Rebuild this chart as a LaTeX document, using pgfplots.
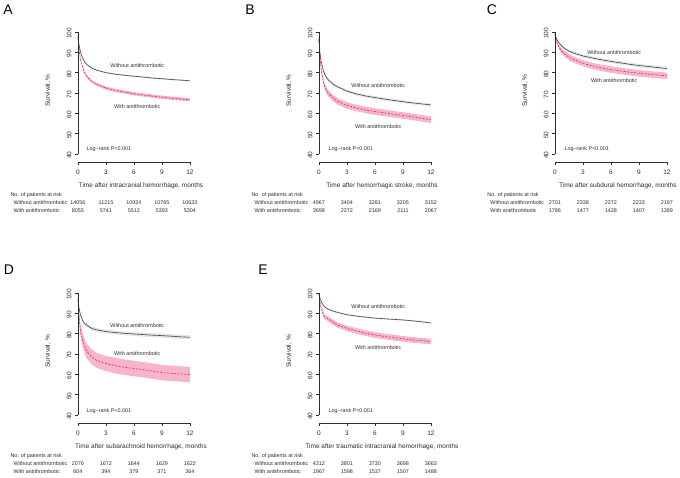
\documentclass[border=0pt]{standalone}
\usepackage{pgfplots}
\pgfplotsset{compat=1.18}
\usepackage{pgfplotstable}
\usepgfplotslibrary{fillbetween}
\usepackage{fontspec}
\setmainfont{Liberation Sans}
\definecolor{txt}{RGB}{45,45,45}
\definecolor{pband}{RGB}{248,180,202}
\definecolor{redl}{RGB}{222,45,90}
\definecolor{gband}{RGB}{228,228,228}
\definecolor{gline}{RGB}{70,70,70}
\newcommand{\fs}{\fontsize{5.4}{6}\selectfont}
\newcommand{\fm}{\fontsize{6.5}{7.5}\selectfont}

% t: months; wo: without antithrombotic; w: with antithrombotic; d*: CI half-width
\pgfplotstableread{
t    wo    dwo  w     dw
0    98.0  0.1  97.0  0.2
0.1  94.0  0.2  92.0  0.4
0.25 90.5  0.3  87.0  0.5
0.5  87.0  0.3  82.5  0.6
0.75 85.0  0.3  79.5  0.6
1    83.8  0.4  77.8  0.7
1.5  82.2  0.4  75.6  0.7
2    81.2  0.4  74.2  0.7
3    80.0  0.4  72.4  0.8
4    79.2  0.4  71.2  0.8
5    78.7  0.4  70.4  0.8
6    78.2  0.4  69.6  0.8
7    77.8  0.4  69.0  0.8
8    77.3  0.4  68.4  0.8
9    77.0  0.4  67.9  0.8
10   76.6  0.4  67.4  0.8
11   76.3  0.4  67.0  0.8
12   76.0  0.4  66.6  0.8
}\tA
\pgfplotstableread{
t    wo    dwo  w     dw
0    97.0  0.2  96.0  0.3
0.1  90.0  0.4  88.0  0.8
0.25 85.0  0.5  81.0  1.2
0.5  80.5  0.6  74.8  1.4
0.75 78.0  0.6  71.6  1.5
1    76.4  0.7  69.8  1.5
1.5  74.4  0.7  67.5  1.5
2    73.0  0.7  65.8  1.6
3    70.9  0.7  63.8  1.6
4    69.5  0.7  62.6  1.6
5    68.5  0.7  61.6  1.6
6    67.7  0.7  60.8  1.6
7    67.0  0.7  60.2  1.6
8    66.3  0.7  59.5  1.6
9    65.7  0.7  58.9  1.6
10   65.1  0.7  58.2  1.6
11   64.6  0.7  57.5  1.6
12   64.1  0.7  56.8  1.6
}\tB
\pgfplotstableread{
t    wo    dwo  w     dw
0    99.0  0.2  98.5  0.3
0.1  97.5  0.4  96.5  0.6
0.25 96.0  0.5  94.5  0.9
0.5  94.3  0.6  92.0  1.2
0.75 93.0  0.6  90.5  1.3
1    92.0  0.7  89.3  1.4
1.5  90.6  0.7  87.6  1.5
2    89.6  0.7  86.4  1.5
3    88.2  0.7  84.6  1.5
4    87.2  0.8  83.3  1.5
5    86.3  0.8  82.3  1.6
6    85.5  0.8  81.5  1.6
7    84.8  0.8  80.8  1.6
8    84.1  0.8  80.2  1.6
9    83.5  0.8  79.7  1.6
10   83.0  0.8  79.2  1.6
11   82.5  0.8  78.8  1.6
12   82.0  0.8  78.4  1.6
}\tC
\pgfplotstableread{
t    wo    dwo  w     dw
0    97.0  0.3  96.0  0.8
0.1  93.0  0.5  89.0  1.8
0.25 89.5  0.7  82.0  2.8
0.5  86.3  0.8  76.6  3.3
0.75 84.8  0.8  73.2  3.5
1    83.9  0.9  70.9  3.6
1.5  82.5  0.9  68.5  3.7
2    81.8  0.9  66.8  3.7
3    81.0  0.9  65.2  3.7
4    80.5  0.9  64.2  3.8
5    80.1  0.9  63.4  3.8
6    79.8  0.9  62.8  3.8
7    79.5  1.0  62.2  3.8
8    79.2  1.0  61.5  3.8
9    79.0  1.0  60.8  3.8
10   78.7  1.0  60.4  3.8
11   78.4  1.0  60.1  3.8
12   78.2  1.0  59.8  3.8
}\tD
\pgfplotstableread{
t    wo    dwo  w     dw
0    99.5  0.1  99.0  0.2
0.1  97.5  0.2  95.5  0.6
0.25 95.6  0.3  92.3  0.9
0.5  93.7  0.3  88.8  1.1
0.75 92.7  0.4  87.8  1.2
1    92.0  0.4  87.2  1.2
1.5  91.1  0.4  85.6  1.3
2    90.4  0.4  84.2  1.3
3    89.3  0.4  82.6  1.3
4    88.6  0.4  81.3  1.4
5    88.1  0.4  80.2  1.4
6    87.6  0.4  79.3  1.4
7    87.3  0.4  78.6  1.4
8    87.0  0.4  78.0  1.4
9    86.7  0.4  77.4  1.4
10   86.3  0.4  76.9  1.4
11   85.8  0.4  76.5  1.4
12   85.2  0.4  76.1  1.4
}\tE

\pgfplotsset{km/.style={
  scale only axis, width=112pt, height=130pt,
  xmin=0, xmax=12, ymin=36, ymax=100,
  xtick={0,3,6,9,12}, ytick={40,50,...,100},
  axis line style={draw=none},
  xtick pos=bottom, ytick pos=left, tick align=outside,
  major tick length=3pt, tick style={txt, line width=0.4pt},
  clip=false,
  /pgf/number format/assume math mode=true,
  tick label style={font=\fm, text=txt},
  xticklabel style={yshift=-1.5pt},
  yticklabel style={rotate=90, anchor=south, xshift=-1.5pt},
  anchor=south west}}

\newcommand{\curves}[1]{%
  \addplot[name path=woH, draw=none, forget plot] table[x=t, y expr=\thisrow{wo}+\thisrow{dwo}]{#1};
  \addplot[name path=woL, draw=none, forget plot] table[x=t, y expr=\thisrow{wo}-\thisrow{dwo}]{#1};
  \addplot[gband, forget plot] fill between[of=woH and woL];
  \addplot[name path=wH, draw=none, forget plot] table[x=t, y expr=\thisrow{w}+\thisrow{dw}]{#1};
  \addplot[name path=wL, draw=none, forget plot] table[x=t, y expr=\thisrow{w}-\thisrow{dw}]{#1};
  \addplot[pband, forget plot] fill between[of=wH and wL];
  \addplot[gline, line width=0.6pt] table[x=t, y=wo]{#1};
  \addplot[redl, line width=0.6pt, dash pattern=on 2pt off 1.5pt] table[x=t, y=w]{#1};
  \draw[txt, line width=0.4pt] (axis cs:0,40) -- (axis cs:0,100);
  \draw[txt, line width=0.4pt] (axis cs:0,36) -- (axis cs:12,36);
  \node[font=\fm, text=txt, rotate=90] at (axis description cs:-0.268,0.55) {Survival, \%};
  \node[font=\fs, text=txt, anchor=west, xshift=-71pt, yshift=-33pt] at (axis cs:0,36) {No. of patients at risk};
  \node[font=\fs, text=txt, anchor=west, xshift=-68pt, yshift=-40.5pt] at (axis cs:0,36) {Without antithrombotic};
  \node[font=\fs, text=txt, anchor=west, xshift=-68pt, yshift=-49pt] at (axis cs:0,36) {With antithrombotic};
}
\newcommand{\riskrow}[6]{%
  \node[font=\fs, text=txt, yshift=#1] at (axis cs:0,36) {#2};
  \node[font=\fs, text=txt, yshift=#1] at (axis cs:3,36) {#3};
  \node[font=\fs, text=txt, yshift=#1] at (axis cs:6,36) {#4};
  \node[font=\fs, text=txt, yshift=#1] at (axis cs:9,36) {#5};
  \node[font=\fs, text=txt, yshift=#1] at (axis cs:12,36) {#6};
}
\newcommand{\xlab}[1]{\node[font=\fm, text=txt, yshift=-24pt] at (axis description cs:0.5625,0) {#1};}
\newcommand{\lab}[3]{\node[font=\fs, text=txt, anchor=west] at (axis cs:#1,#2) {#3};}

\begin{document}
\begin{tikzpicture}

% A
\begin{axis}[km, at={(78pt,315pt)}]
\curves{\tA}
\xlab{Time after intracranial hemorrhage, months}
\riskrow{-40.5pt}{14056}{11215}{10924}{10765}{10633}
\riskrow{-49pt}{8055}{5741}{5512}{5393}{5304}
\lab{3.1}{83.3}{Without antithrombotic}
\lab{3.5}{63.1}{With antithrombotic}
\lab{0.55}{42.4}{Log−rank P<0.001}
\end{axis}

% B
\begin{axis}[km, at={(319pt,315pt)}]
\curves{\tB}
\xlab{Time after hemorrhagic stroke, months}
\riskrow{-40.5pt}{4967}{3404}{3281}{3205}{3152}
\riskrow{-49pt}{3698}{2272}{2169}{2111}{2067}
\lab{3.1}{73.4}{Without antithrombotic}
\lab{3.5}{53.3}{With antithrombotic}
\lab{0.65}{42.4}{Log−rank P<0.001}
\end{axis}

% C
\begin{axis}[km, at={(555pt,315pt)}]
\curves{\tC}
\xlab{Time after subdural hemorrhage, months}
\riskrow{-40.5pt}{2701}{2338}{2272}{2233}{2197}
\riskrow{-49pt}{1786}{1477}{1428}{1407}{1389}
\lab{3.1}{89.7}{Without antithrombotic}
\lab{3.5}{75.9}{With antithrombotic}
\lab{0.65}{42.4}{Log−rank P<0.001}
\end{axis}

% D
\begin{axis}[km, at={(78pt,54pt)}]
\curves{\tD}
\xlab{Time after subarachnoid hemorrhage, months}
\riskrow{-40.5pt}{2076}{1672}{1644}{1629}{1622}
\riskrow{-49pt}{604}{394}{379}{371}{364}
\lab{3.1}{83.9}{Without antithrombotic}
\lab{3.5}{70.2}{With antithrombotic}
\lab{0.55}{42.0}{Log−rank P<0.001}
\end{axis}

% E
\begin{axis}[km, at={(319pt,54pt)}]
\curves{\tE}
\xlab{Time after traumatic intracranial hemorrhage, months}
\riskrow{-40.5pt}{4312}{3801}{3730}{3698}{3663}
\riskrow{-49pt}{1967}{1598}{1537}{1507}{1488}
\lab{3.1}{93.2}{Without antithrombotic}
\lab{3.5}{73.2}{With antithrombotic}
\lab{0.65}{42.0}{Log−rank P<0.001}
\end{axis}

\node[font=\fontsize{14}{14}\selectfont] at (8pt,467pt) {A};
\node[font=\fontsize{14}{14}\selectfont] at (250pt,467pt) {B};
\node[font=\fontsize{14}{14}\selectfont] at (492pt,467pt) {C};
\node[font=\fontsize{14}{14}\selectfont] at (9pt,207pt) {D};
\node[font=\fontsize{14}{14}\selectfont] at (263pt,207pt) {E};
\path (0pt,0pt) rectangle (680pt,477pt);
\end{tikzpicture}
\end{document}
